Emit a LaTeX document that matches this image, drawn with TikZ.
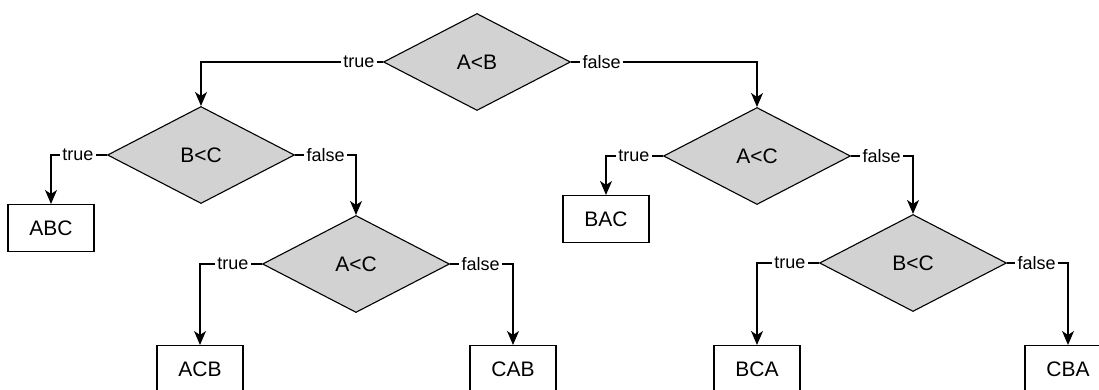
\documentclass[tikz,border=0pt]{standalone}
\usepackage{fontspec}
\setmainfont{Liberation Sans}
\usetikzlibrary{shapes.geometric,positioning,arrows.meta}
\tikzset{
  test/.style={diamond,draw,fill=gray!35,minimum width=187pt,minimum height=97pt,inner sep=0pt,font=\fontsize{21}{25}\selectfont},
  leaf/.style={rectangle,draw,minimum width=86pt,minimum height=47pt,inner sep=0pt,font=\fontsize{21}{25}\selectfont},
  lbl/.style={inner sep=2pt,font=\fontsize{18}{21}\selectfont},
  arr/.style={-{Stealth[length=14pt,width=12pt,inset=4pt]}},
}
\begin{document}
\begin{tikzpicture}[x=1pt,y=-1pt,line width=1.1pt]
\useasboundingbox (0,0) rectangle (1099,390);
% tests
\node[test] (ab) at (477,62) {A<B};
\node[test] (bcl) at (201,155) {B<C};
\node[test] (acl) at (356,264) {A<C};
\node[test] (acr) at (757,156) {A<C};
\node[test] (bcr) at (913,263) {B<C};
% results
\node[leaf] (abc) at (51,228) {ABC};
\node[leaf] (bac) at (606,219) {BAC};
\node[leaf] (acb) at (200,369) {ACB};
\node[leaf] (cab) at (513,369) {CAB};
\node[leaf] (bca) at (757,369) {BCA};
\node[leaf] (cba) at (1068,369) {CBA};
% labels
\node[lbl,left=6pt of ab.west] (ab-t) {true};
\node[lbl,right=9pt of ab.east] (ab-f) {false};
\node[lbl,left=11pt of bcl.west] (bcl-t) {true};
\node[lbl,right=9pt of bcl.east] (bcl-f) {false};
\node[lbl,left=11pt of acl.west] (acl-t) {true};
\node[lbl,right=9pt of acl.east] (acl-f) {false};
\node[lbl,left=11pt of acr.west] (acr-t) {true};
\node[lbl,right=9pt of acr.east] (acr-f) {false};
\node[lbl,left=11pt of bcr.west] (bcr-t) {true};
\node[lbl,right=8pt of bcr.east] (bcr-f) {false};
% connectors
\draw (ab.west) -- (ab-t);
\draw[arr] (ab-t) -| (bcl.north);
\draw (ab.east) -- (ab-f);
\draw[arr] (ab-f) -| (acr.north);
\draw (bcl.west) -- (bcl-t);
\draw[arr] (bcl-t) -| (abc.north);
\draw (bcl.east) -- (bcl-f);
\draw[arr] (bcl-f) -| (acl.north);
\draw (acl.west) -- (acl-t);
\draw[arr] (acl-t) -| (acb.north);
\draw (acl.east) -- (acl-f);
\draw[arr] (acl-f) -| (cab.north);
\draw (acr.west) -- (acr-t);
\draw[arr] (acr-t) -| (bac.north);
\draw (acr.east) -- (acr-f);
\draw[arr] (acr-f) -| (bcr.north);
\draw (bcr.west) -- (bcr-t);
\draw[arr] (bcr-t) -| (bca.north);
\draw (bcr.east) -- (bcr-f);
\draw[arr] (bcr-f) -| (cba.north);
\end{tikzpicture}
\end{document}
